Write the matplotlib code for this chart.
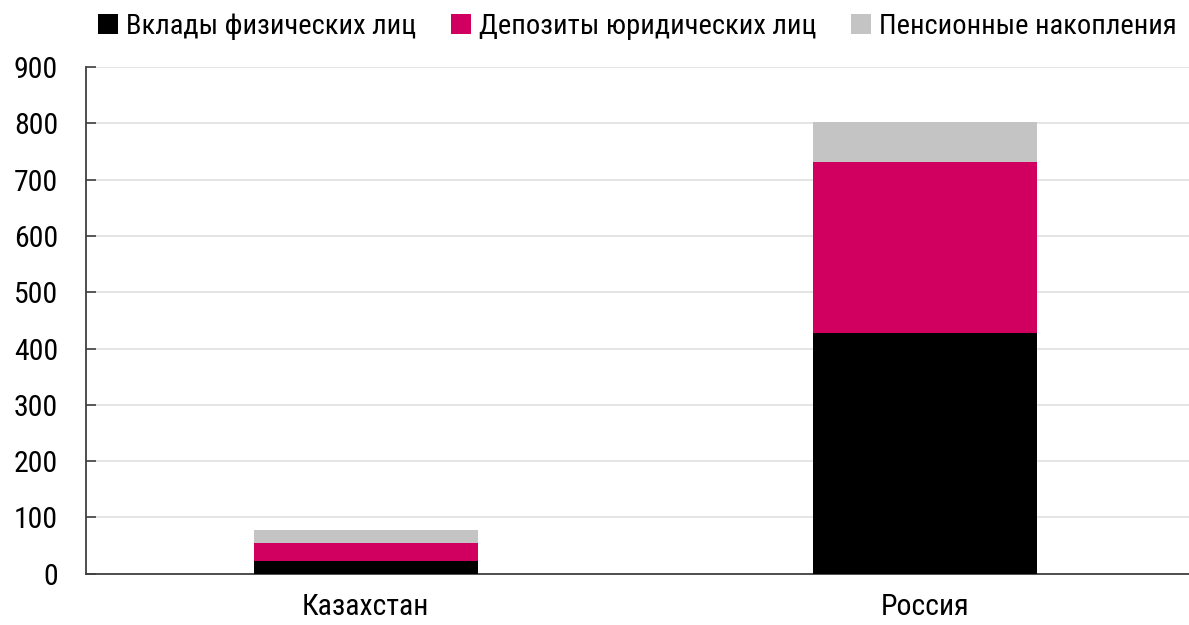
import matplotlib
matplotlib.use("Agg")
import matplotlib.pyplot as plt
from matplotlib import font_manager
from matplotlib.patches import Patch

categories = ["Казахстан", "Россия"]
series_names = ["Вклады физических лиц", "Депозиты юридических лиц", "Пенсионные накопления"]
individuals = [23, 427]
legal_entities = [32, 305]
pensions = [23, 71]
yticks = [0, 100, 200, 300, 400, 500, 600, 700, 800, 900]

colors = ["#000000", "#D10060", "#C4C4C4"]

names = sorted({f.name for f in font_manager.fontManager.ttflist})
narrow = [n for n in names if "Narrow" in n or "Condensed" in n]
pref = ["Liberation Sans Narrow", "Arial Narrow", "Roboto Condensed", "Open Sans Condensed"]
fam = None
for p in pref:
    if p in names:
        fam = p
        break
if fam is None and narrow:
    fam = narrow[0]
if fam is not None:
    fs_leg, fs_tick = 20.5, 21.5
else:
    fam = "Liberation Sans"
    fs_leg, fs_tick = 19.0, 20.0
plt.rcParams["font.family"] = [fam, "DejaVu Sans"]

fig = plt.figure(figsize=(11.89, 6.25), dpi=100)
ax = fig.add_axes([86 / 1189, (625 - 573.7) / 625, 1119 / 1189, (573.7 - 67) / 625])

x = list(range(len(categories)))
bottom = [0] * len(categories)
for vals, c in zip([individuals, legal_entities, pensions], colors):
    ax.bar(x, vals, width=0.4, bottom=bottom, color=c, zorder=3)
    bottom = [b + v for b, v in zip(bottom, vals)]

ax.set_xlim(-0.5, 1.5)
ax.set_ylim(0, 900)
ax.set_yticks(yticks)
ax.set_xticks(x)
ax.set_xticklabels(categories)
ax.yaxis.grid(True, color="#E3E3E3", linewidth=1.3, zorder=0)
ax.set_axisbelow(True)
for s in ["top", "right"]:
    ax.spines[s].set_visible(False)
for s in ["left", "bottom"]:
    ax.spines[s].set_color("#404040")
    ax.spines[s].set_linewidth(1.3)
ax.tick_params(axis="y", direction="in", length=7, width=1.2, color="#404040",
               labelsize=fs_tick, pad=20)
ax.tick_params(axis="x", length=0, labelsize=fs_tick, pad=14)

handles = [Patch(facecolor=c, edgecolor="none") for c in colors]
fig.legend(handles, series_names, loc="center", bbox_to_anchor=(0.536, 0.957),
           ncol=3, frameon=False, fontsize=fs_leg, handlelength=0.7, handleheight=0.7,
           handletextpad=0.3, columnspacing=1.2, borderpad=0)

fig.savefig("out.png", dpi=100)
